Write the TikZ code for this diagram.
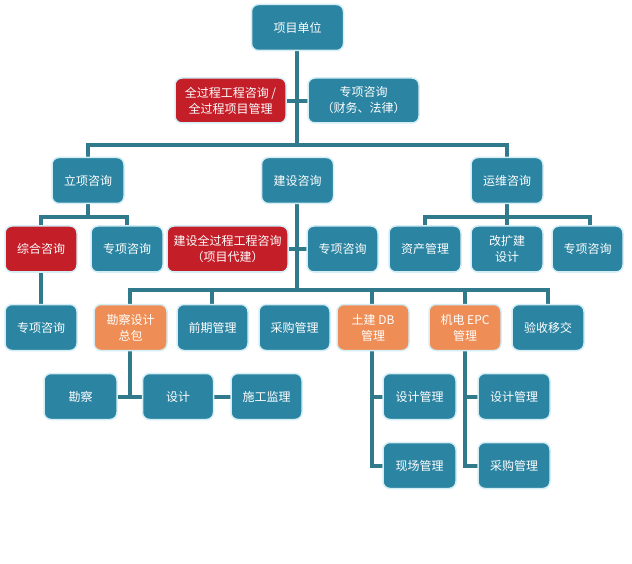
\documentclass[tikz,border=0pt]{standalone}
\usepackage{fontspec}
\newfontfamily\cjk{Noto Sans CJK SC}
\definecolor{teal1}{RGB}{43,132,162}
\definecolor{red1}{RGB}{196,30,40}
\definecolor{orange1}{RGB}{238,142,86}
\definecolor{line1}{RGB}{48,122,140}
\definecolor{halo}{RGB}{212,238,246}
\tikzset{
  box/.style={rectangle, rounded corners=7pt, fill=teal1, draw=halo, line width=1.5pt,
    text=white, font=\cjk\fontsize{12}{16}\selectfont, align=center,
    inner sep=0pt, minimum height=46pt, minimum width=72pt},
  redbox/.style={box, fill=red1},
  orbox/.style={box, fill=orange1},
  conn/.style={draw=line1, line width=4pt},
}
\begin{document}
\begin{tikzpicture}[x=1pt,y=-1pt]
\useasboundingbox[fill=white] (0,0) rectangle (632,564);
% junction coordinates
\coordinate (b1) at (297,145);
\coordinate (b2) at (88,217);
\coordinate (b3) at (507,217);
\coordinate (b4) at (297,290);
% connectors (drawn first)
\begin{scope}[conn]
\draw (297,51) -- (b1);
\draw (88,181) |- (b1) -| (507,181);
\draw (297,181) -- (b4);
\draw (230,101) -- (363,101);
\draw (88,181) -- (b2);
\draw (41,249) |- (b2) -| (127,249);
\draw (41,249) -- (41,327);
\draw (507,181) -- (507,249);
\draw (425,249) |- (b3) -| (590,249);
\draw (227,249) -- (343,249);
\draw (130,327) |- (b4) -| (548,327);
\draw (212,327) -- (212,290);
\draw (372,327) -- (372,290);
\draw (465,327) -- (465,290);
\draw (130,327) -- (130,397);
\draw (80,397) -- (266,397);
\draw (372,327) |- (419,466);
\draw (372,397) -- (419,397);
\draw (465,327) |- (514,466);
\draw (465,397) -- (514,397);
\end{scope}
% nodes
\node[box, minimum width=92pt] (top) at (297.5,27.5) {项目单位};
\node[redbox, minimum width=111pt, minimum height=45pt] (qgc) at (230.5,100.5) {全过程工程咨询 /\\全过程项目管理};
\node[box, minimum width=111pt, minimum height=45pt] (zxcw) at (363.5,100.5) {专项咨询\\（财务、法律）};
\node[box] (lx) at (88,180.5) {立项咨询};
\node[box] (js) at (297.5,180.5) {建设咨询};
\node[box] (yw) at (507,180.5) {运维咨询};
\node[redbox] (zh) at (41,249) {综合咨询};
\node[box] (lzx) at (127,249) {专项咨询};
\node[redbox, minimum width=121pt] (jsq) at (227.5,249) {建设全过程工程咨询\\（项目代建）};
\node[box, minimum width=71pt] (jzx) at (342.5,249) {专项咨询};
\node[box] (zc) at (425,249) {资产管理};
\node[box] (gkj) at (507,249) {改扩建\\设计};
\node[box, minimum width=71pt] (yzx) at (587.5,249) {专项咨询};
\node[box] (lzx2) at (41,327.5) {专项咨询};
\node[orbox, minimum width=73pt] (kc) at (130.5,327.5) {勘察设计\\总包};
\node[box, minimum width=71pt] (qq) at (212.5,327.5) {前期管理};
\node[box, minimum width=71pt] (cg) at (294.5,327.5) {采购管理};
\node[orbox] (tj) at (373,327.5) {土建 DB\\管理};
\node[orbox] (jd) at (465,327.5) {机电 EPC\\管理};
\node[box] (ys) at (548,327.5) {验收移交};
\node[box, minimum width=73pt] (kcha) at (80.5,396.5) {勘察};
\node[box, minimum width=71pt] (sj) at (178,396.5) {设计};
\node[box, minimum width=71pt] (sgjl) at (266.5,396.5) {施工监理};
\node[box, minimum width=73pt] (sg1) at (419.5,396.5) {设计管理};
\node[box, minimum width=72pt] (sg2) at (514,396.5) {设计管理};
\node[box, minimum width=73pt] (xc) at (419.5,465.5) {现场管理};
\node[box, minimum width=72pt] (cg2) at (514,465.5) {采购管理};
\end{tikzpicture}
\end{document}
